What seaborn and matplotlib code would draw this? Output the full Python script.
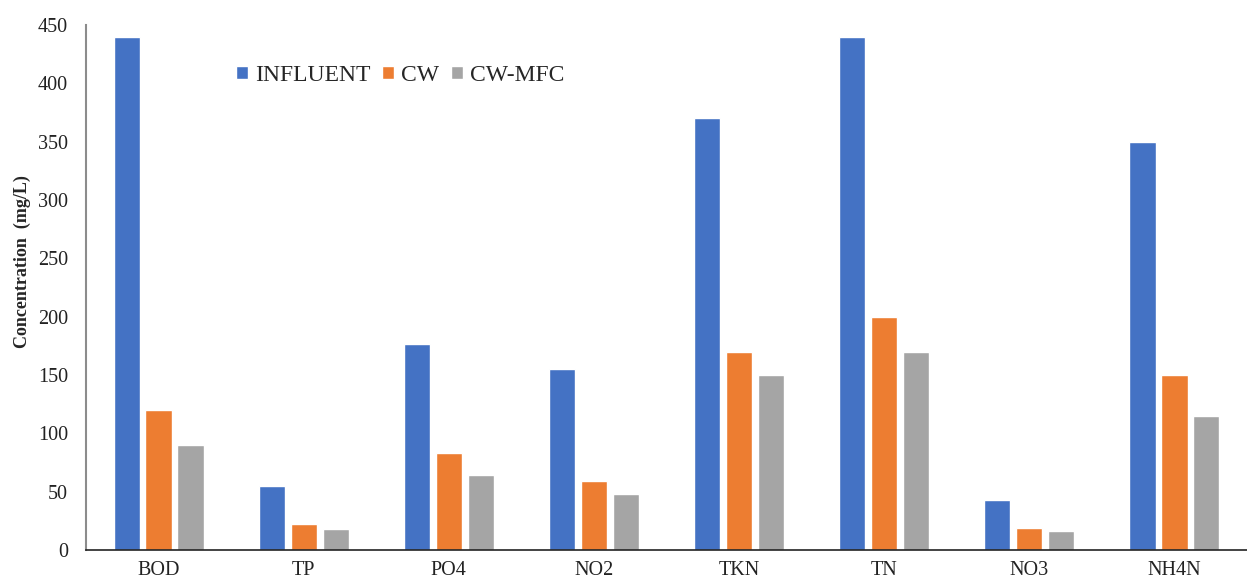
import matplotlib
matplotlib.use("Agg")
import matplotlib.pyplot as plt
import seaborn as sns
import pandas as pd

parameters = ["BOD", "TP", "PO4", "NO2", "TKN", "TN", "NO3", "NH4N"]
influent = [440, 55, 177, 155, 370, 440, 43, 350]
cw = [120, 22, 83, 59, 170, 200, 19, 150]
cw_mfc = [90, 18, 64, 48, 150, 170, 16, 115]
series_names = ["INFLUENT", "CW", "CW-MFC"]
colors = ["#4472C4", "#ED7D31", "#A5A5A5"]
y_ticks = [0, 50, 100, 150, 200, 250, 300, 350, 400, 450]

df = pd.DataFrame({
    "Parameter": parameters * 3,
    "Series": [series_names[0]] * 8 + [series_names[1]] * 8 + [series_names[2]] * 8,
    "Value": influent + cw + cw_mfc,
})

sns.set_theme(style="white")
plt.rcParams["font.family"] = ["Liberation Serif", "DejaVu Serif"]

fig = plt.figure(figsize=(12.47, 5.81), dpi=100)
ax = fig.add_axes([86 / 1247, 1 - 550 / 581, 1 - 86 / 1247, (550 - 25) / 581])

sns.barplot(data=df, x="Parameter", y="Value", hue="Series", order=parameters,
            hue_order=series_names, palette=colors, width=0.66, gap=0.18,
            saturation=1, errorbar=None, ax=ax)

ax.set_xlim(-0.5, 7.5)
ax.set_ylim(0, 450)
ax.set_yticks(y_ticks)
ax.tick_params(axis="y", labelsize=14.5, length=4, width=1, color="#595959",
               direction="inout", pad=11, labelcolor="#222222")
ax.tick_params(axis="x", labelsize=14.5, length=0, pad=8, labelcolor="#222222")
ax.set_xlabel("")
ax.set_ylabel("Concentration  (mg/L)", fontsize=13, fontweight="bold")
ax.yaxis.set_label_coords(-0.047, 0.55)

for side in ["top", "right"]:
    ax.spines[side].set_visible(False)
ax.spines["left"].set_color("#8c8c8c")
ax.spines["left"].set_linewidth(1.5)
ax.spines["bottom"].set_color("#222222")
ax.spines["bottom"].set_linewidth(1.2)

handles, labels = ax.get_legend_handles_labels()
ax.legend(handles, labels, loc="center left", bbox_to_anchor=(0.111, 0.904),
          ncol=3, frameon=False, fontsize=17, handlelength=0.5, handleheight=0.5,
          handletextpad=0.3, columnspacing=0.5)

fig.savefig("out.png", dpi=100)
